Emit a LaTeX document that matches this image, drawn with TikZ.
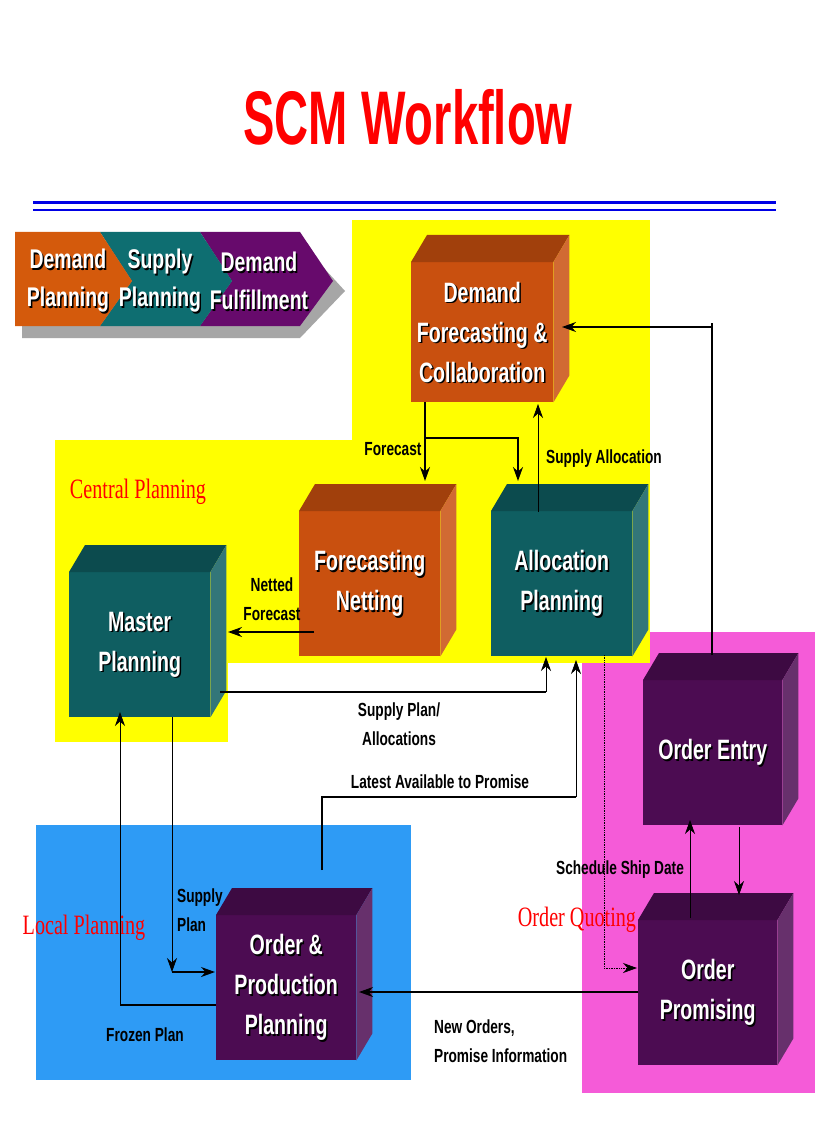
\documentclass[tikz,border=0pt]{standalone}
\usepackage{fontspec}
\setmainfont{Liberation Sans}
\newfontfamily\serifred{Liberation Serif}
\usetikzlibrary{calc,arrows.meta}
\definecolor{orng}{HTML}{C9500F}
\definecolor{teal2}{HTML}{0F5E61}
\definecolor{purp}{HTML}{4C0C52}
\definecolor{yel}{HTML}{FFFF00}
\definecolor{pnk}{HTML}{F55BD8}
\definecolor{blu}{HTML}{2E9BF5}
\tikzset{
  boxlbl/.style={text=white,font=\bfseries\fontsize{28}{40}\selectfont,align=center,xscale=0.7,inner sep=0},
  chevlbl/.style={text=white,font=\bfseries\fontsize{27}{38}\selectfont,align=center,xscale=0.72,inner sep=0},
  shd/.style={text=black},
  face/.style={inner sep=0,anchor=north west},
  small/.style={font=\bfseries\fontsize{19}{29}\selectfont,xscale=0.72,inner sep=0,align=center},
  region/.style={text=red,font=\serifred\fontsize{28}{30}\selectfont,xscale=0.72,inner sep=0},
  arr/.style={-{Stealth[length=14pt,width=10pt]},line width=1.5pt},
  thin/.style={-{Stealth[length=14pt,width=10pt]},line width=0.7pt},
  ln/.style={line width=1.5pt},
}
\newcommand{\cube}[7]{%
  \node[face,fill=#6,minimum width=#4-#2,minimum height=#5-#3] (#1) at (#2,#3) {};
  \fill[#6!80!black] (#1.north west) -- ++(16,-27) -- ($(#1.north east)+(16,-27)$) -- (#1.north east) -- cycle;
  \fill[#6!85!white] (#1.north east) -- ++(16,-27) -- ($(#1.south east)+(16,-27)$) -- (#1.south east) -- cycle;
  \node[boxlbl,shd] at ($(#1.center)+(1.5,1.5)$) {#7};
  \node[boxlbl] at (#1.center) {#7};
}
\begin{document}
\begin{tikzpicture}[x=1pt,y=-1pt]
\useasboundingbox (0,0) rectangle (816,1123);
\fill[white] (0,0) rectangle (816,1123);
% title
\node[text=red,font=\bfseries\fontsize{76}{80}\selectfont,xscale=0.62] (title) at (408,117) {SCM Workflow};
\draw[blue!90!black,line width=3pt] (33,203) -- (776,203);
\draw[blue!90!black,line width=2pt] (33,210) -- (776,210);
% regions
\fill[pnk] (582,632) rectangle (815,1093);
\fill[yel] (352,220) rectangle (650,663);
\fill[yel] (55,440) rectangle (650,663);
\fill[yel] (55,663) rectangle (228,742);
\fill[blu] (36,825) rectangle (411,1080);
% chevrons
\fill[gray!70] (22,242) -- (300,242) -- (345,291) -- (300,338) -- (22,338) -- cycle;
\fill[purp!85!magenta] (200,232) -- (300,232) -- (333,281) -- (300,326) -- (200,326) -- (232,281) -- cycle;
\fill[teal2!90!cyan] (100,232) -- (200,232) -- (232,281) -- (200,326) -- (100,326) -- (132,281) -- cycle;
\fill[orng!80!orange] (15,232) -- (100,232) -- (132,281) -- (100,326) -- (15,326) -- cycle;
\node[chevlbl,shd] at (69.5,282.5) {Demand\\Planning};
\node[chevlbl] (chev1) at (68,281) {Demand\\Planning};
\node[chevlbl,shd] at (161.5,282.5) {Supply\\Planning};
\node[chevlbl] (chev2) at (160,281) {Supply\\Planning};
\node[chevlbl,shd] at (260.5,282.5) {Demand\\Fulfillment};
\node[chevlbl] (chev3) at (259,281) {Demand\\Fulfillment};
% boxes
\cube{dfc}{411}{262}{553}{402}{orng}{Demand\\Forecasting \&\\Collaboration}
\cube{fn}{299}{511}{440}{656}{orng}{Forecasting\\Netting}
\cube{ap}{491}{511}{632}{656}{teal2}{Allocation\\Planning}
\cube{mp}{69}{572}{210}{717}{teal2}{Master\\Planning}
\cube{oe}{643}{680}{782}{825}{purp}{Order Entry}
\cube{op}{638}{920}{777}{1065}{purp}{Order\\Promising}
\cube{opp}{216}{915}{356}{1060}{purp}{Order \&\\Production\\Planning}
% region labels
\node[region] (cp) at (138,492) {Central Planning};
\node[region] (lp) at (84,928) {Local Planning};
\node[region] (oq) at (577,920) {Order Quoting};
% connectors
\draw[ln] (712,655) -- (712,323);
\draw[arr] (712,327) -- (562,327);
\draw[arr] (425,402) -- (425,481);
\draw[arr] (425,438) -- (518,438) -- (518,481);
\draw[thin] (538,512) -- (538,404);
\draw[arr] (314,632) -- (228,632);
\draw[ln] (220,692) -- (546,692);
\draw[thin] (546,692) -- (546,657);
\draw[ln] (322,870) -- (322,797) -- (576,797);
\draw[thin] (576,797) -- (576,660);
\draw[thin,densely dotted] (604,655) -- (604,968) -- (637,968);
\draw[thin] (172,717) -- (172,972);
\draw[arr] (172,972) -- (215,972);
\draw[ln] (216,1005) -- (120,1005);
\draw[thin] (120,1005) -- (120,712);
\draw[arr] (638,992) -- (359,992);
\draw[thin] (690,918) -- (690,820);
\draw[thin] (739,827) -- (739,895);
% labels
\node[small] (l1) at (393,449) {Forecast};
\node[small] (l2) at (604,459) {Supply Allocation};
\node[small] (l3) at (272,599) {Netted\\Forecast};
\node[small] (l4) at (399,724) {Supply Plan/\\Allocations};
\node[small] (l5) at (440,782) {Latest Available to Promise};
\node[small] (l6) at (620,870) {Schedule Ship Date};
\node[small,align=left,anchor=west] (l7) at (177,910) {Supply\\Plan};
\node[small] (l8) at (145,1035) {Frozen Plan};
\node[small,align=left,anchor=west] (l9) at (434,1041) {New Orders,\\Promise Information};
\end{tikzpicture}
\end{document}
